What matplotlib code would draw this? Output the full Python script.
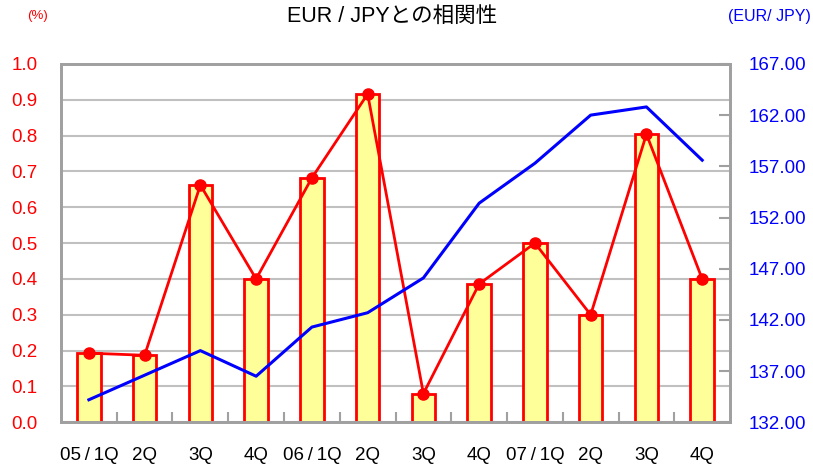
import numpy as np
import matplotlib
matplotlib.use("Agg")
import matplotlib.pyplot as plt

plt.rcParams['font.family'] = ['Liberation Sans', 'Noto Sans CJK JP', 'DejaVu Sans']

quarters = ['05/1Q', '2Q', '3Q', '4Q', '06/1Q', '2Q', '3Q', '4Q', '07/1Q', '2Q', '3Q', '4Q']
correlation = [0.193, 0.187, 0.662, 0.400, 0.682, 0.916, 0.080, 0.386, 0.500, 0.300, 0.804, 0.400]
eurjpy = [134.2, 136.6, 139.0, 136.5, 141.3, 142.7, 146.1, 153.4, 157.3, 162.0, 162.8, 157.6]

x = np.arange(len(quarters))

fig = plt.figure(figsize=(8.13, 4.70), dpi=100)
ax = fig.add_axes([0.075, 0.1015, 0.823, 0.7625])
ax2 = ax.twinx()

grid_col = '#c0c0c0'
spine_col = '#a0a0a0'

# bars + red line (left scale)
ax.bar(x, correlation, width=0.42, color='#ffff99', edgecolor='#ff0000', linewidth=2, zorder=2)
ax.plot(x, correlation, color='#ff0000', lw=2, marker='o', ms=8, zorder=3)

# blue EUR/JPY line (right scale)
ax2.plot(x, eurjpy, color='#0000ff', lw=2.2, zorder=4)

ax.set_xlim(-0.5, len(quarters) - 0.5)
ax.set_ylim(0, 1.0)
ax2.set_ylim(132, 167)

ax.set_yticks(np.arange(0, 1.01, 0.1))
ax.set_yticklabels(['%.1f' % v for v in np.arange(0, 1.01, 0.1)])
ax2.set_yticks(np.arange(132, 167.1, 5))
ax2.set_yticklabels(['%.2f' % v for v in np.arange(132, 167.1, 5)])

ax.yaxis.grid(True, color=grid_col, lw=1.5, zorder=0)
ax.set_axisbelow(True)

ax.set_xticks(x)
ax.set_xticklabels([q.replace('/', '\u2009/\u2009') for q in quarters])
ax.set_xticks(np.arange(0.5, len(quarters) - 0.5, 1), minor=True)
ax.tick_params(axis='x', which='major', length=0, pad=18, labelsize=13.5, colors='black')
ax.tick_params(axis='x', which='minor', direction='in', length=7, width=1.5, color=spine_col)
ax.tick_params(axis='y', length=0, pad=17, labelsize=13.5, labelcolor='#ff0000')
ax2.tick_params(axis='y', direction='in', length=8, width=1.5, color=spine_col,
                pad=13, labelsize=13.5, labelcolor='#0000ff')

for a in (ax, ax2):
    for s in a.spines.values():
        s.set_color(spine_col)
        s.set_linewidth(2)

fig.text(0.482, 0.965, 'EUR / JPYとの相関性', ha='center', va='center', fontsize=15.5)
fig.text(0.046, 0.965, '(%)', ha='center', va='center', fontsize=9.5, color='#ff0000')
fig.text(0.947, 0.965, '(EUR/ JPY)', ha='center', va='center', fontsize=11.5, color='#0000ff')

fig.savefig('out.png', dpi=100)
